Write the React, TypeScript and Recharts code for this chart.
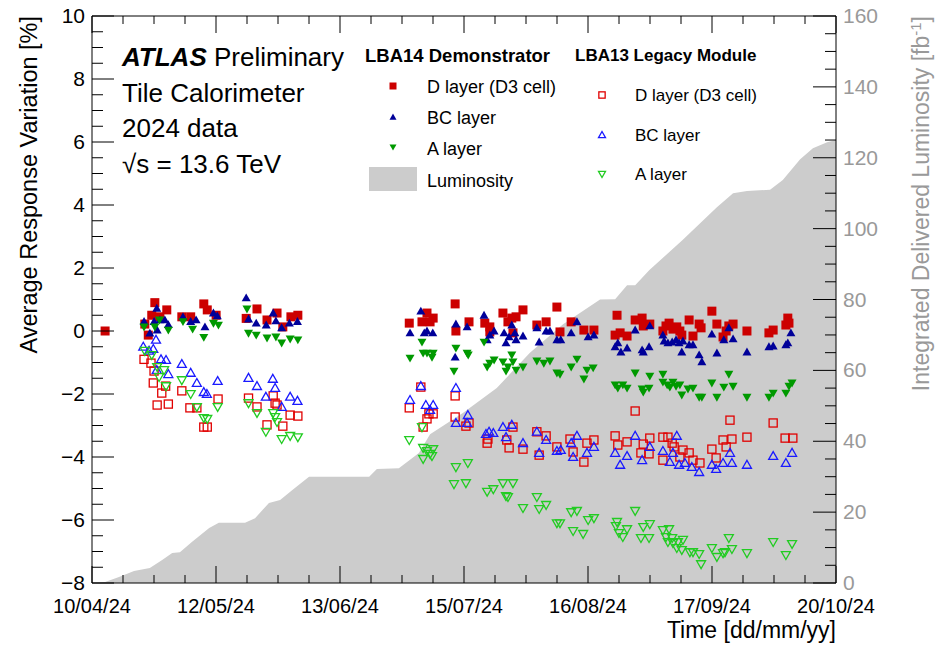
import { ComposedChart, Area, Scatter, XAxis, YAxis } from 'recharts'

const FONT = '"Liberation Sans", Arial, Helvetica, sans-serif'

// x axis: days since 10/04/24, plotted range ends at 20/10/24
const X_MAX = 193
const xTickLabels = ['10/04/24', '12/05/24', '13/06/24', '15/07/24', '16/08/24', '17/09/24', '20/10/24']

// integrated luminosity [fb^-1] vs day
const lumDays = [0, 3.4, 7, 10.9, 15, 18.2, 20.8, 22.8, 25.9, 30.4, 32.9, 39.7, 42.3, 45.9, 48.8, 51.9, 56.3, 71.9, 73.9, 79.6, 84.8, 87.7, 96.2, 105, 113.6, 122.2, 131.8, 135.7, 138.8, 140.9, 144.6, 153.2, 162.1, 166.3, 169.9, 175.9, 179.2, 183.7, 187, 190.7, 193]
const lumValues = [0, 0.3, 1.7, 3.4, 4.2, 6.5, 8.5, 8.7, 11.6, 15.5, 17, 17, 18.3, 22.6, 23.4, 26.2, 30, 30, 32.2, 32.4, 36.7, 42, 48, 55, 65, 73, 80, 80.1, 84, 84, 88.3, 96.8, 106, 110, 110.6, 111, 113.7, 119.6, 122.7, 124.4, 125]

// [day, response variation %]
const lba14D: [number, number][] = [
  [3.4, 0.0], [13.7, 0.22], [14.6, -0.13], [15.5, 0.5], [16.3, 0.9], [17.6, 0.45], [19.4, 0.67], [23.3, 0.45], [25.6, 0.45], [29.0, 0.86], [29.9, 0.67], [32.2, 0.5],
  [40.0, 0.4], [42.8, 0.7], [45.4, 0.35], [48.0, 0.57], [49.5, 0.13], [51.6, 0.45], [53.4, 0.5],
  [82.3, 0.25], [85.6, 0.29], [86.9, 0.57], [87.7, 0.29], [88.5, 0.41], [94.2, 0.86], [94.4, 0.0], [97.8, 0.29], [101.9, 0.25], [103.2, 0.13], [103.2, -0.03],
  [106.6, 0.57], [107.9, 0.29], [108.9, 0.41], [109.2, -0.06], [110.0, 0.45], [111.8, 0.67], [115.4, 0.19], [117.8, 0.29], [120.6, 0.76], [121.4, -0.03],
  [124.3, 0.29], [127.6, 0.03], [130.2, 0.03],
  [135.7, -0.13], [136.2, 0.5], [137.0, -0.06], [138.8, -0.16], [140.9, 0.35], [142.7, 0.41], [143.0, 0.16], [144.7, 0.22], [148.1, 0.0], [148.9, 0.16],
  [149.7, 0.25], [150.7, 0.06], [151.7, 0.13], [152.5, 0.0], [153.0, -0.13], [154.9, 0.35], [155.9, -0.16], [157.5, 0.22], [158.0, 0.1], [160.8, 0.63],
  [162.1, 0.22], [163.7, -0.19], [164.5, 0.0], [165.2, 0.16], [166.3, 0.22], [169.9, 0.0], [175.6, -0.06], [176.7, 0.03], [180.0, 0.19], [180.5, 0.41], [180.8, 0.25],
]
const lba14BC: [number, number][] = [
  [13.5, 0.3], [15.0, -0.07], [16.1, 0.3], [16.8, 0.72], [16.9, 0.03], [17.6, 0.35], [18.9, 0.35], [19.8, 0.2], [23.6, 0.45], [25.6, 0.3], [27.0, 0.35],
  [29.3, 0.13], [31.5, 0.57], [32.5, 0.48], [40.0, 1.05], [40.6, 0.38], [42.6, 0.25], [45.2, 0.19], [47.0, 0.57], [47.7, 0.32], [49.2, 0.1], [51.2, 0.25], [53.3, 0.3],
  [82.5, -0.06], [85.3, 0.63], [86.2, -0.06], [86.9, 0.0], [88.4, -0.06], [94.2, -0.83], [94.4, 0.22], [97.3, 0.13], [101.7, 0.5], [102.5, -0.28], [103.2, -0.13],
  [104.3, 0.0], [106.9, -0.06], [107.4, -0.38], [108.2, -0.19], [108.9, 0.19], [109.7, -0.06], [110.0, -0.28], [111.8, -0.16], [115.4, 0.1], [116.0, -0.35],
  [117.8, 0.0], [118.8, 0.0], [120.6, -0.28], [121.6, -0.28], [124.3, -0.06], [125.8, 0.29], [128.7, -0.19], [130.2, -0.13],
  [135.7, -0.5], [136.4, -0.38], [137.2, -0.67], [138.8, -0.54], [140.9, 0.03], [142.7, -0.6], [143.0, -0.67], [144.5, -0.5], [144.7, 0.16], [148.1, -0.13],
  [148.4, -0.32], [149.4, -0.38], [150.5, -0.35], [151.5, -0.28], [152.3, -0.38], [153.3, -0.32], [153.0, -0.67], [154.9, -0.44], [155.9, -0.44], [157.5, -0.76],
  [158.2, -0.98], [160.8, -0.1], [162.1, -0.7], [163.9, -0.28], [165.2, 0.1], [166.3, -0.25], [169.9, -0.67], [175.6, -0.5], [176.7, -0.48], [180.0, -0.44],
  [180.5, -0.38], [181.3, -0.06],
]
const lba14A: [number, number][] = [
  [13.5, 0.13], [16.3, 0.13], [17.5, 0.35], [19.8, 0.03], [23.6, 0.3], [26.1, 0.06], [29.0, -0.2], [31.5, 0.25], [32.8, 0.19], [40.2, 0.7], [40.6, -0.07],
  [42.6, -0.13], [45.4, -0.22], [47.7, -0.19], [49.2, -0.38], [51.4, -0.25], [53.4, -0.28],
  [82.5, -0.86], [85.6, -0.35], [85.9, -0.7], [86.9, -0.7], [88.2, -0.83], [88.5, -0.7], [93.9, -1.27], [94.4, -0.54], [97.3, -0.7], [97.6, -0.76], [101.7, -0.35],
  [102.5, -1.14], [103.2, -1.02], [104.3, -0.92], [106.6, -0.98], [107.4, -1.27], [107.9, -1.14], [108.9, -0.76], [109.2, -0.98], [110.0, -1.24], [111.8, -1.14],
  [115.4, -0.95], [117.2, -1.02], [118.8, -0.95], [120.6, -1.33], [121.4, -1.37], [124.3, -1.14], [125.8, -0.89], [127.6, -1.52], [128.4, -1.24], [130.0, -1.17],
  [135.7, -1.71], [136.4, -1.81], [137.7, -1.71], [138.8, -1.81], [140.9, -1.33], [142.7, -1.84], [143.0, -1.94], [144.5, -1.81], [144.7, -1.43], [148.1, -1.37],
  [148.1, -1.62], [149.2, -1.71], [149.9, -1.78], [150.7, -1.62], [151.5, -1.75], [152.5, -1.71], [153.0, -2.03], [154.6, -1.84], [155.9, -1.81], [157.5, -2.1],
  [158.2, -2.1], [160.8, -1.65], [162.1, -2.1], [163.9, -1.78], [165.2, -1.37], [166.3, -1.75], [169.9, -2.1], [175.6, -2.1], [176.7, -1.97], [180.0, -1.97],
  [180.8, -1.75], [181.6, -1.65],
]
const lba13D: [number, number][] = [
  [13.5, -0.9], [15.3, -1.02], [15.9, -1.65], [16.1, -1.27], [16.9, -2.35], [18.1, -1.97], [19.1, -1.75], [19.8, -2.32], [23.3, -1.9], [25.4, -2.44], [27.2, -2.44],
  [29.0, -3.05], [29.9, -3.05], [32.7, -2.16], [40.6, -2.13], [42.8, -2.41], [45.4, -2.98], [47.0, -2.06], [47.5, -2.29], [48.0, -2.35], [49.5, -3.02], [51.4, -2.67], [53.4, -2.7],
  [82.3, -2.44], [85.3, -1.78], [85.9, -3.05], [86.9, -2.79], [87.4, -2.63], [88.5, -2.63], [94.2, -2.06], [94.2, -2.73], [97.0, -3.02], [97.8, -2.92], [102.5, -3.56],
  [102.7, -3.43], [107.6, -3.46], [108.2, -3.71], [109.2, -3.05], [111.8, -3.75], [115.4, -3.2], [116.0, -3.94], [117.8, -3.33], [120.6, -3.68], [124.0, -3.43],
  [124.8, -3.84], [127.6, -4.16], [128.4, -3.56], [130.2, -3.46],
  [135.7, -3.33], [136.4, -3.62], [138.8, -3.52], [140.9, -2.54], [142.4, -3.87], [143.0, -3.59], [144.5, -3.9], [144.7, -3.4], [148.1, -3.37], [148.1, -4.1],
  [149.4, -3.37], [150.5, -3.56], [151.0, -3.68], [152.5, -4.0], [153.3, -3.78], [154.9, -3.87], [155.9, -4.1], [157.7, -4.19], [160.8, -3.75], [161.9, -4.03],
  [163.7, -3.46], [164.5, -3.68], [165.5, -2.83], [166.0, -3.43], [169.9, -3.37], [176.7, -2.92], [179.8, -3.4], [181.8, -3.4],
]
const lba13BC: [number, number][] = [
  [13.3, -0.5], [14.8, -0.63], [15.9, -0.57], [16.6, -0.28], [16.8, -1.24], [17.9, -0.9], [19.2, -0.92], [19.8, -1.37], [23.3, -1.05], [25.6, -1.33], [27.2, -1.65],
  [29.0, -1.94], [29.8, -2.0], [32.6, -1.59], [40.6, -1.49], [42.8, -1.75], [45.1, -2.09], [46.9, -1.52], [47.5, -1.81], [49.2, -2.41], [51.4, -2.09], [53.3, -2.22],
  [82.5, -2.19], [85.3, -1.75], [86.6, -2.35], [87.7, -2.51], [88.5, -2.35], [94.4, -1.81], [94.4, -2.92], [97.3, -2.92], [97.5, -2.67], [102.2, -3.27], [103.0, -3.2],
  [104.1, -3.24], [106.6, -3.05], [107.4, -3.37], [108.9, -2.98], [111.8, -3.56], [115.4, -3.2], [116.0, -3.87], [117.8, -3.46], [120.6, -3.81], [121.6, -3.78],
  [124.3, -3.56], [124.8, -4.0], [125.8, -3.33], [128.4, -3.87], [130.2, -3.68],
  [135.7, -3.87], [137.0, -4.25], [138.8, -3.97], [140.9, -3.33], [142.7, -4.1], [144.7, -3.68], [148.1, -3.81], [149.9, -4.16], [150.7, -3.87], [151.7, -3.33],
  [152.3, -4.25], [153.8, -4.19], [155.6, -4.32], [157.5, -4.48], [160.8, -4.25], [161.9, -4.38], [163.7, -4.19], [165.5, -3.87], [166.0, -4.19], [169.9, -4.25],
  [176.7, -3.97], [180.0, -4.19], [181.6, -3.87],
]
const lba13A: [number, number][] = [
  [13.7, -0.63], [15.5, -0.76], [16.9, -1.14], [17.4, -1.46], [18.7, -1.24], [19.2, -1.75], [23.3, -1.56], [25.6, -2.0], [27.2, -2.41], [29.0, -2.76], [29.9, -2.79],
  [32.6, -2.41], [40.6, -2.29], [42.8, -2.6], [45.1, -3.2], [47.0, -2.6], [47.5, -2.73], [48.0, -2.89], [49.2, -3.43], [51.4, -3.33], [53.4, -3.37],
  [82.3, -3.46], [85.6, -3.05], [85.9, -3.71], [86.9, -3.81], [87.7, -3.9], [88.5, -3.75], [85.9, -4.06], [88.2, -3.97], [93.9, -4.86], [94.4, -4.32], [97.0, -4.83],
  [97.5, -4.19], [102.5, -5.1], [104.1, -5.02], [106.6, -4.83], [107.4, -5.24], [107.9, -5.27], [109.2, -4.83], [111.8, -5.62], [115.4, -5.27], [116.0, -5.65],
  [117.8, -5.52], [120.6, -6.1], [121.4, -6.1], [124.3, -5.75], [124.8, -6.35], [125.8, -5.71], [127.4, -6.44], [128.7, -6.0], [130.2, -5.94],
  [135.9, -6.19], [136.2, -6.06], [136.7, -6.41], [137.7, -6.54], [138.8, -6.29], [140.9, -5.71], [142.4, -6.57], [143.0, -6.22], [144.5, -6.57], [144.7, -6.13],
  [148.1, -6.32], [148.9, -6.54], [149.4, -6.7], [149.7, -6.29], [150.5, -6.57], [150.7, -6.73], [151.7, -6.89], [152.0, -6.7], [153.0, -6.95], [153.3, -6.63],
  [155.1, -7.02], [155.9, -7.02], [157.5, -7.08], [158.0, -7.4], [160.8, -6.89], [162.1, -7.17], [163.7, -7.05], [164.2, -7.02], [165.2, -6.57], [166.0, -6.92],
  [169.9, -7.05], [176.7, -6.7], [180.0, -7.11], [181.6, -6.76],
]

type Kind = 'square' | 'up' | 'down'

interface Series {
  name: string
  points: [number, number][]
  kind: Kind
  color: string
  filled: boolean
}

const series: Series[] = [
  { name: 'lba14D', points: lba14D, kind: 'square', color: '#cc0000', filled: true },
  { name: 'lba14BC', points: lba14BC, kind: 'up', color: '#000099', filled: true },
  { name: 'lba14A', points: lba14A, kind: 'down', color: '#009900', filled: true },
  { name: 'lba13D', points: lba13D, kind: 'square', color: '#e00000', filled: false },
  { name: 'lba13BC', points: lba13BC, kind: 'up', color: '#1a1aff', filled: false },
  { name: 'lba13A', points: lba13A, kind: 'down', color: '#22cc22', filled: false },
]

const lumData = lumDays.map((d, i) => ({ day: d, lum: lumValues[i] }))

const xTicks = Array.from({ length: 25 }, (_, k) => (k * X_MAX) / 24)
const leftTicks = Array.from({ length: 37 }, (_, k) => -8 + k * 0.5)
const rightTicks = Array.from({ length: 33 }, (_, k) => k * 5)

function Marker({ kind, cx, cy, color, filled, r }: { kind: Kind; cx: number; cy: number; color: string; filled: boolean; r: number }) {
  const fill = filled ? color : 'none'
  const sw = filled ? 0 : 1.3
  if (kind === 'square') {
    const s = filled ? r : r * 0.9
    return <rect x={cx - s} y={cy - s} width={2 * s} height={2 * s} fill={fill} stroke={color} strokeWidth={sw} />
  }
  const w = r
  const pts = kind === 'up'
    ? `${cx},${cy - r} ${cx - w},${cy + r * 0.75} ${cx + w},${cy + r * 0.75}`
    : `${cx},${cy + r} ${cx - w},${cy - r * 0.75} ${cx + w},${cy - r * 0.75}`
  return <polygon points={pts} fill={fill} stroke={color} strokeWidth={sw} strokeLinejoin="miter" />
}

const fmtLeft = (v: number) => (v < 0 ? '\u2212' + Math.abs(v) : String(v))

// eslint-disable-next-line @typescript-eslint/no-explicit-any
function LeftTick(p: any) {
  const v = p.payload.value
  const major = Math.abs(v % 2) < 1e-6
  return (
    <g>
      <line x1={p.x} x2={p.x + (major ? 22 : 11)} y1={p.y} y2={p.y} stroke="#000" strokeWidth={1} />
      {major && (
        <text x={p.x - 7} y={p.y + 7} textAnchor="end" fontSize={21} fill="#000" fontFamily={FONT}>
          {fmtLeft(v)}
        </text>
      )}
    </g>
  )
}

// eslint-disable-next-line @typescript-eslint/no-explicit-any
function RightTick(p: any) {
  const v = p.payload.value
  const major = Math.abs(v % 20) < 1e-6
  return (
    <g>
      <line x1={p.x} x2={p.x - (major ? 23 : 11)} y1={p.y} y2={p.y} stroke="#000" strokeWidth={1} />
      {major && (
        <text x={p.x + 7} y={p.y + 7} textAnchor="start" fontSize={21} fill="#999999" fontFamily={FONT}>
          {v}
        </text>
      )}
    </g>
  )
}

// eslint-disable-next-line @typescript-eslint/no-explicit-any
function BottomTick(p: any) {
  const k = Math.round((p.payload.value * 24) / X_MAX)
  const major = k % 4 === 0
  return (
    <g>
      <line x1={p.x} x2={p.x} y1={p.y} y2={p.y - (major ? 17 : 8)} stroke="#000" strokeWidth={1} />
      {major && (
        <text x={p.x} y={p.y + 30} textAnchor="middle" fontSize={20} fill="#000" fontFamily={FONT}>
          {xTickLabels[k / 4]}
        </text>
      )}
    </g>
  )
}

// eslint-disable-next-line @typescript-eslint/no-explicit-any
function TopTick(p: any) {
  const k = Math.round((p.payload.value * 24) / X_MAX)
  const major = k % 4 === 0
  return <line x1={p.x} x2={p.x} y1={p.y} y2={p.y + (major ? 17 : 8)} stroke="#000" strokeWidth={1} />
}

function LegendMarker({ kind, x, y, color, filled, r }: { kind: Kind; x: number; y: number; color: string; filled: boolean; r: number }) {
  return <Marker kind={kind} cx={x} cy={y} color={color} filled={filled} r={r} />
}

export default function App() {
  return (
    <div style={{ position: 'absolute', left: 0, top: 0, width: 943, height: 646, background: '#fff', fontFamily: FONT }}>
      <ComposedChart width={943} height={646} data={lumData} margin={{ top: 0, right: 0, bottom: 0, left: 0 }}>
        <Area
          xAxisId="bottom"
          yAxisId="right"
          dataKey="lum"
          type="linear"
          fill="#cccccc"
          fillOpacity={1}
          stroke="none"
          isAnimationActive={false}
        />
        {series.map(s => (
          <Scatter
            key={s.name}
            xAxisId="bottom"
            yAxisId="left"
            data={s.points.map(([d, v]) => ({ day: d, v }))}
            dataKey="v"
            isAnimationActive={false}
            // eslint-disable-next-line @typescript-eslint/no-explicit-any
            shape={(p: any) => <Marker kind={s.kind} cx={p.cx} cy={p.cy} color={s.color} filled={s.filled} r={4.5} />}
          />
        ))}
        <XAxis
          xAxisId="bottom"
          dataKey="day"
          type="number"
          domain={[0, X_MAX]}
          ticks={xTicks}
          interval={0}
          height={63}
          tickSize={0}
          tickMargin={0}
          tickLine={false}
          axisLine={{ stroke: '#000', strokeWidth: 1 }}
          tick={BottomTick}
          allowDataOverflow
        />
        <XAxis
          xAxisId="top"
          orientation="top"
          dataKey="day"
          type="number"
          domain={[0, X_MAX]}
          ticks={xTicks}
          interval={0}
          height={16}
          tickSize={0}
          tickMargin={0}
          tickLine={false}
          axisLine={{ stroke: '#000', strokeWidth: 1 }}
          tick={TopTick}
          allowDataOverflow
        />
        <YAxis
          yAxisId="left"
          type="number"
          domain={[-8, 10]}
          ticks={leftTicks}
          interval={0}
          width={92}
          tickSize={0}
          tickMargin={0}
          tickLine={false}
          axisLine={{ stroke: '#000', strokeWidth: 1 }}
          tick={LeftTick}
          allowDataOverflow
        />
        <YAxis
          yAxisId="right"
          orientation="right"
          type="number"
          domain={[0, 160]}
          ticks={rightTicks}
          interval={0}
          width={107}
          tickSize={0}
          tickMargin={0}
          tickLine={false}
          axisLine={{ stroke: '#000', strokeWidth: 1 }}
          tick={RightTick}
          allowDataOverflow
        />
      </ComposedChart>

      <svg
        width={943}
        height={646}
        style={{ position: 'absolute', left: 0, top: 0, pointerEvents: 'none' }}
        fontFamily={FONT}
      >
        {/* axis titles */}
        <text transform="translate(37,16) rotate(-90)" textAnchor="end" fontSize={23.5} fill="#000">
          Average Response Variation [%]
        </text>
        <text transform="translate(929,16) rotate(-90)" textAnchor="end" fontSize={23} fill="#999999">
          Integrated Delivered Luminosity [fb<tspan dy={-8} fontSize={15}>-1</tspan><tspan dy={8}>]</tspan>
        </text>
        <text x={836} y={638} textAnchor="end" fontSize={23} fill="#000">
          Time [dd/mm/yy]
        </text>

        {/* ATLAS label */}
        <text x={122} y={66} fontSize={26} fill="#000">
          <tspan fontWeight="bold" fontStyle="italic">ATLAS</tspan> Preliminary
        </text>
        <text x={122} y={102} fontSize={26} fill="#000">Tile Calorimeter</text>
        <text x={122} y={137} fontSize={26} fill="#000">2024 data</text>
        <text x={122} y={173} fontSize={26} fill="#000">{'\u221As = 13.6 TeV'}</text>

        {/* legend: LBA14 */}
        <text x={365} y={62} fontSize={18.5} fontWeight="bold" fill="#000">LBA14 Demonstrator</text>
        <LegendMarker kind="square" x={393} y={86} color="#cc0000" filled r={3.5} />
        <LegendMarker kind="up" x={393} y={117} color="#000099" filled r={3.5} />
        <LegendMarker kind="down" x={393} y={147} color="#009900" filled r={3.5} />
        <rect x={369} y={167} width={48} height={24} fill="#cccccc" />
        <text x={427} y={93} fontSize={18} fill="#000">D layer (D3 cell)</text>
        <text x={427} y={124} fontSize={18} fill="#000">BC layer</text>
        <text x={427} y={155} fontSize={18} fill="#000">A layer</text>
        <text x={427} y={187} fontSize={18} fill="#000">Luminosity</text>

        {/* legend: LBA13 */}
        <text x={575} y={61} fontSize={17} fontWeight="bold" fill="#000">LBA13 Legacy Module</text>
        <LegendMarker kind="square" x={602} y={95} color="#e00000" filled={false} r={3.5} />
        <LegendMarker kind="up" x={602} y={135} color="#1a1aff" filled={false} r={3.5} />
        <LegendMarker kind="down" x={602} y={174} color="#22cc22" filled={false} r={3.5} />
        <text x={635} y={101} fontSize={17} fill="#000">D layer (D3 cell)</text>
        <text x={635} y={141} fontSize={17} fill="#000">BC layer</text>
        <text x={635} y={180} fontSize={17} fill="#000">A layer</text>
      </svg>
    </div>
  )
}
